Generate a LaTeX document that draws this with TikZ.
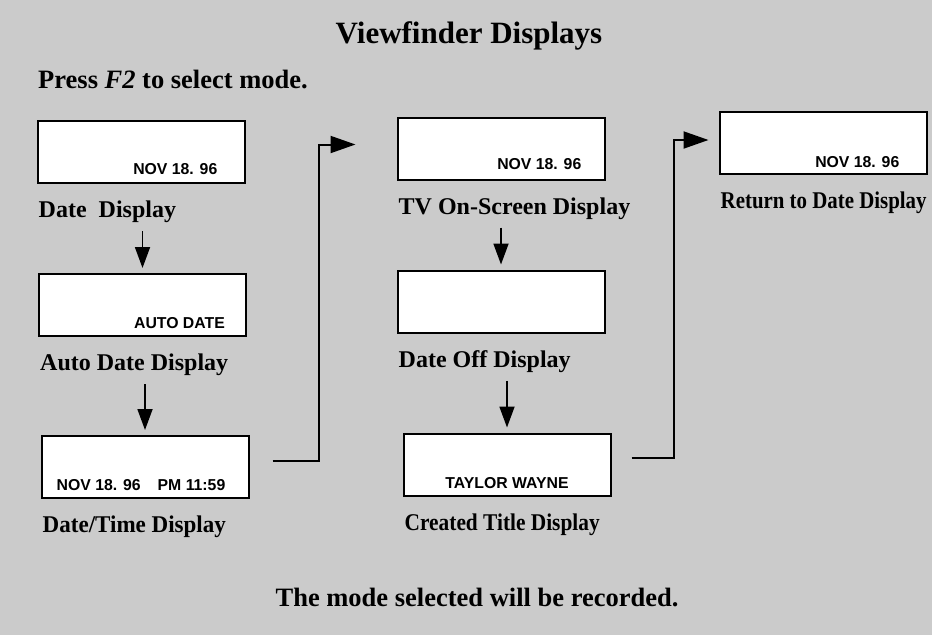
\documentclass[tikz,border=0pt]{standalone}
\usepackage{fontspec}
\setmainfont{Liberation Serif}
\setsansfont{Liberation Sans}
\usepackage{graphicx}
\usetikzlibrary{arrows.meta,positioning,calc}
\definecolor{paper}{HTML}{CBCBCB}
\tikzset{screen/.style={draw,line width=2pt,fill=white,
  minimum width=207pt,minimum height=62pt,inner sep=0pt},
  readout/.style={font=\sffamily\bfseries\fontsize{15.8}{18}\selectfont,inner sep=0pt},
  caption/.style={font=\bfseries\fontsize{24}{28}\selectfont,inner sep=0pt},
  stepdown/.style={-{Triangle[length=21pt,width=15pt]},line width=1.8pt,
  shorten <=8pt,shorten >=5pt},
  carry/.style={-{Triangle[length=25pt,width=17pt]},line width=2pt}}

\begin{document}
\begin{tikzpicture}[x=1pt,y=-1pt,node distance=17pt and 2pt]
\fill[paper] (0,0) rectangle (932,635);
\useasboundingbox (0,0) rectangle (932,635);
\node[font=\bfseries\fontsize{31}{36}\selectfont,anchor=base] (title) at (469,43) {Viewfinder Displays};
\node[font=\bfseries\fontsize{26.5}{30}\selectfont,anchor=base west,inner sep=0pt] (press) at (38,88) {Press \textit{F2} to select mode.};
% left column
\node[screen] (s1) at (141,152) {};
\node[caption,below right=of s1.south west] (l1) {Date\ \ Display};
\node[screen,below=89pt of s1,xshift=1.5pt] (s2) {};
\node[caption,below right=of s2.south west] (l2) {Auto Date Display};
\node[screen,below=98pt of s2,xshift=2.5pt] (s3) {};
\node[caption,below right=of s3.south west] (l3) {\scalebox{0.96}[1]{Date/Time Display}};
% middle column
\node[screen] (s4) at (501,148.5) {};
\node[caption,below right=of s4.south west] (l4) {TV On-Screen Display};
\node[screen,below=89pt of s4] (s5) {};
\node[caption,below right=of s5.south west] (l5) {Date Off Display};
\node[screen,below=99pt of s5,xshift=6pt] (s6) {};
\node[caption,below right=of s6.south west] (l6) {\scalebox{0.89}[1]{Created Title Display}};
% right column
\node[screen] (s7) at (823,142.5) {};
\node[caption,below right=of s7.south west] (l7) {\scalebox{0.87}[1]{Return to Date Display}};
% what the screens show
\node[readout,above left=9pt and 28pt of s1.south east] (r1) {NOV 18. 96};
\node[readout,above left=8pt and 22pt of s2.south east] (r2) {AUTO DATE};
\node[readout,above left=8pt and 24pt of s3.south east] (r3) {NOV 18. 96\hspace{17pt}PM 11:59};
\node[readout,above left=11pt and 24pt of s4.south east] (r4) {NOV 18. 96};
\node[readout,above=8pt of s6.south] (r6) {TAYLOR WAYNE};
\node[readout,above left=7pt and 28pt of s7.south east] (r7) {NOV 18. 96};
\foreach \a/\b in {l1/s2,l2/s3,l4/s5,l5/s6}
\draw[stepdown] (\a.south -| \b.north) -- (\b.north);
\draw[carry,shorten <=23pt,shorten >=41pt] ([yshift=6pt]s3.east) -- ++(69,0) |- ([yshift=4pt]s4.west);
\draw[carry,shorten <=20pt,shorten >=10pt] ([yshift=7pt]s6.east) -- ++(62,0) |- ([yshift=2.5pt]s7.west);
\node[font=\bfseries\fontsize{26.5}{30}\selectfont,anchor=base] (foot) at (477,606) {The mode selected will be recorded.};
\end{tikzpicture}
\end{document}
